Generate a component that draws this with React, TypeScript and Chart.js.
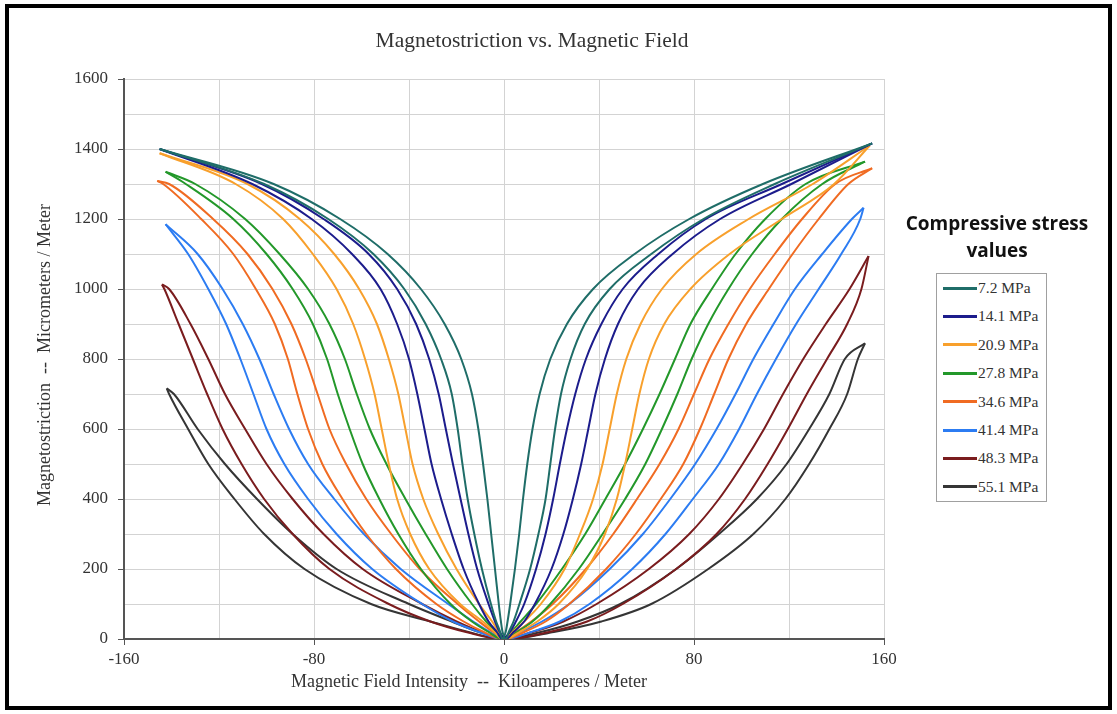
import React, { useEffect, useRef } from 'react';
import { Chart, registerables } from 'chart.js';

Chart.register(...registerables);

// ---- labels / text ----
const chartTitle = 'Magnetostriction vs. Magnetic Field';
const xAxisTitle = 'Magnetic Field Intensity  --  Kiloamperes / Meter';
const yAxisTitle = 'Magnetostriction  --  Micrometers / Meter';
const legendTitleLines = ['Compressive stress', 'values'];

const seriesLabels = ['7.2 MPa', '14.1 MPa', '20.9 MPa', '27.8 MPa', '34.6 MPa', '41.4 MPa', '48.3 MPa', '55.1 MPa'];
const seriesColors = ['#1f6d68', '#1c1c8c', '#f8a02c', '#23982a', '#f06b22', '#2c7cf2', '#7a1c1e', '#353535'];

// ---- axes ----
const xMin = -160;
const xMax = 160;
const xGridStep = 40;
const xLabelStep = 80;
const yMin = 0;
const yMax = 1600;
const yGridStep = 100;
const yLabelStep = 200;

// y levels (micrometers/meter) at which branch positions were read
const yLevels = [1300, 1200, 1100, 1000, 900, 800, 700, 600, 500, 400, 300, 200, 100, 50, 20];

// loop tips [x, y]
const tipLeft = [[-145, 1400], [-145, 1400], [-145, 1388], [-142.5, 1335], [-146, 1309], [-142.5, 1185], [-144, 1013], [-142, 716]];
const tipRight = [[155, 1416], [155, 1416], [154, 1410], [152, 1364], [155, 1345], [151.4, 1232], [153.5, 1094], [152, 845]];

// 7.2 MPa
const s1LeftOuter = [-101, -74, -55, -42, -33, -26.5, -22, -19.5, -17.5, -15.3, -12.5, -9.3, -5.5, -3.3, -1.6];
const s1LeftInner = [-97, -69, -49, -35, -25, -18, -13.5, -10.8, -8.8, -7, -5.4, -3.8, -2.2, -1.3, -0.6];
const s1RightInner = [109, 78, 55, 37.5, 26.5, 19.5, 15, 12, 9.8, 8, 6.4, 4.6, 2.6, 1.5, 0.7];
const s1RightOuter = [114, 84, 62, 44.5, 34, 28, 24, 21.5, 19.5, 17.5, 14.5, 11, 6.5, 4, 2];
// 14.1 MPa
const s2LeftOuter = [-106, -81, -64, -52, -45, -40, -36.5, -33.5, -30.5, -26.5, -22, -17, -10.5, -6.5, -3];
const s2LeftInner = [-102, -76, -57, -45, -37, -31.5, -27.5, -24.5, -21.5, -18.3, -15, -11.3, -6.5, -3.8, -1.8];
const s2RightInner = [117, 85, 65, 50, 41, 34.5, 30, 26.5, 23.5, 20.7, 17.5, 13.5, 8.5, 5, 2.5];
const s2RightOuter = [121, 91, 71, 56.5, 48, 42.5, 38.5, 35.5, 32.5, 29, 25, 20, 13, 8.5, 4];
// 20.9 MPa
const s3LeftOuter = [-113, -93, -80.5, -70.5, -63.5, -58.5, -54.5, -51.5, -48.5, -45, -39.5, -31.5, -18.5, -9, -4];
const s3LeftInner = [-108, -86, -71.5, -61, -53.5, -48.5, -44.5, -41.5, -38.5, -34, -27.7, -20, -10.5, -5, -2.2];
const s3RightInner = [130, 103, 81, 66.5, 57.5, 51.5, 47.5, 44.5, 41.5, 37.5, 32, 25.5, 15.5, 8.5, 3.5];
const s3RightOuter = [139, 117, 95, 78.5, 67.5, 61, 57, 54, 51, 47.5, 42.5, 35, 23, 14, 6.5];
// 27.8 MPa
const s4LeftOuter = [-134, -114, -100, -89, -80.5, -74.5, -70, -65, -59.5, -52.5, -44.5, -35, -22.5, -13.5, -6.5];
const s4LeftInner = [-130, -109, -94.5, -82.5, -73.5, -67, -62, -56.5, -49.5, -41.5, -33, -24, -13.5, -7.5, -3.2];
const s4RightInner = [127, 110, 97.5, 87.5, 78.5, 72, 65.5, 58.5, 51, 42.7, 34.2, 24.4, 13.5, 7, 3];
const s4RightOuter = [134, 117, 104.5, 94.5, 86, 79, 73, 66.5, 59.5, 51, 41.5, 31.5, 19.5, 12, 5.5];
// 34.6 MPa
const s5LeftOuter = [-143.5, -127.5, -114, -104.5, -96.5, -91, -87, -82.5, -76.5, -68, -58, -45.5, -28.5, -17, -8.5];
const s5LeftInner = [-141, -122.5, -108, -97.5, -89.5, -83.5, -78.5, -73.5, -66.5, -58, -47.5, -35.5, -19.5, -10.5, -4.5];
const s5RightInner = [139.5, 125.5, 114, 103.5, 94.5, 86.5, 80, 73.5, 65.5, 56, 46, 34.5, 20.5, 11.5, 5];
const s5RightOuter = [145, 132.5, 121.5, 111.5, 102, 94.5, 88.5, 82.5, 75.5, 66, 55.5, 43, 27.5, 17.5, 8.5];
// 41.4 MPa
const s6LeftOuter = [null, null, -133, -124.5, -117, -111, -105.5, -100, -92.5, -82.5, -70.5, -55.5, -34.5, -21.5, -10.5];
const s6LeftInner = [null, null, -129, -118.5, -110, -103, -97, -90.5, -82.5, -71.5, -59, -43.5, -23.5, -13, -6];
const s6RightInner = [null, 146.5, 134, 122.5, 113.5, 105, 97.5, 89.5, 80.5, 70, 58.5, 44.5, 27.5, 16, 7];
const s6RightOuter = [null, 150, 142, 132.5, 123, 114.5, 106.5, 99, 90.5, 79.5, 68, 54, 36, 23.5, 11.5];
// 48.3 MPa
const s7LeftOuter = [null, null, null, -143, -137, -131, -125, -118.5, -110.5, -101, -89, -73.5, -48.5, -31, -16];
const s7LeftInner = [null, null, null, -141, -132, -124.5, -117.5, -109, -100, -89, -76, -59.5, -34.5, -20, -9.5];
const s7RightInner = [null, null, null, 145.5, 135.5, 126, 117.5, 109.5, 100.5, 90.5, 78, 61, 39, 25, 12];
const s7RightOuter = [null, null, null, 150.5, 144.5, 136, 127.5, 119.5, 111, 101.5, 89.5, 72.5, 50, 35, 19];
// 55.1 MPa
const s8LeftOuter = [null, null, null, null, null, null, -141, -133, -124.5, -113.5, -101, -84, -56, -31, -15];
const s8LeftInner = [null, null, null, null, null, null, -139, -129, -117.5, -104, -89, -70.5, -40, -22, -10.5];
const s8RightInner = [null, null, null, null, null, 143.5, 137, 128.5, 119, 106.5, 90.5, 72.5, 49, 31, 15.5];
const s8RightOuter = [null, null, null, null, null, 149, 144.5, 137, 128.5, 118.5, 105, 86, 62, 41, 21];

const leftOuter = [s1LeftOuter, s2LeftOuter, s3LeftOuter, s4LeftOuter, s5LeftOuter, s6LeftOuter, s7LeftOuter, s8LeftOuter];
const leftInner = [s1LeftInner, s2LeftInner, s3LeftInner, s4LeftInner, s5LeftInner, s6LeftInner, s7LeftInner, s8LeftInner];
const rightInner = [s1RightInner, s2RightInner, s3RightInner, s4RightInner, s5RightInner, s6RightInner, s7RightInner, s8RightInner];
const rightOuter = [s1RightOuter, s2RightOuter, s3RightOuter, s4RightOuter, s5RightOuter, s6RightOuter, s7RightOuter, s8RightOuter];

// field values where each sweep touches zero
const minimumRising = 0.8;
const minimumFalling = -0.8;

type P = { x: number; y: number };

// field rising: left tip -> left inner branch -> minimum -> right outer branch -> right tip
function risingSweep(i: number): P[] {
  const pts: P[] = [];
  const n = yLevels.length;
  pts.push({ x: tipLeft[i][0], y: tipLeft[i][1] });
  for (let k = 0; k < n; k++) if (leftInner[i][k] != null) pts.push({ x: leftInner[i][k] as number, y: yLevels[k] });
  pts.push({ x: minimumRising, y: 0 });
  for (let k = n - 1; k >= 0; k--) if (rightOuter[i][k] != null) pts.push({ x: rightOuter[i][k] as number, y: yLevels[k] });
  pts.push({ x: tipRight[i][0], y: tipRight[i][1] });
  return pts;
}

// field falling: right tip -> right inner branch -> minimum -> left outer branch -> left tip
function fallingSweep(i: number): P[] {
  const pts: P[] = [];
  const n = yLevels.length;
  pts.push({ x: tipRight[i][0], y: tipRight[i][1] });
  for (let k = 0; k < n; k++) if (rightInner[i][k] != null) pts.push({ x: rightInner[i][k] as number, y: yLevels[k] });
  pts.push({ x: minimumFalling, y: 0 });
  for (let k = n - 1; k >= 0; k--) if (leftOuter[i][k] != null) pts.push({ x: leftOuter[i][k] as number, y: yLevels[k] });
  pts.push({ x: tipLeft[i][0], y: tipLeft[i][1] });
  return pts;
}

const serif = '"Liberation Serif", "Times New Roman", serif';

const textPlugin = {
  id: 'extraTexts',
  afterDraw(chart: any) {
    const { ctx, chartArea } = chart;
    ctx.save();
    ctx.fillStyle = '#333333';
    ctx.textAlign = 'center';
    ctx.textBaseline = 'middle';
    ctx.font = `21.5px ${serif}`;
    ctx.fillText(chartTitle, chartArea.left + 408, 41);
    ctx.font = `18px ${serif}`;
    ctx.fillText(xAxisTitle, chartArea.left + 345, 682);
    ctx.translate(45, (chartArea.top + chartArea.bottom) / 2 - 4);
    ctx.rotate(-Math.PI / 2);
    ctx.fillText(yAxisTitle, 0, 0);
    ctx.restore();
  },
};

function isMultiple(v: number, step: number) {
  const r = Math.abs(v % step);
  return r < 1e-6 || Math.abs(r - step) < 1e-6;
}

export default function App() {
  const canvasRef = useRef<HTMLCanvasElement | null>(null);

  useEffect(() => {
    const canvas = canvasRef.current;
    if (!canvas) return;
    const datasets: any[] = [];
    seriesLabels.forEach((label, i) => {
      [risingSweep(i), fallingSweep(i)].forEach((data, j) => {
        datasets.push({
          label: j === 0 ? label : label + ' (return)',
          data,
          borderColor: seriesColors[i],
          backgroundColor: seriesColors[i],
          borderWidth: 2,
          pointRadius: 0,
          showLine: true,
          fill: false,
          cubicInterpolationMode: 'monotone',
        });
      });
    });
    const chart = new Chart(canvas, {
      type: 'scatter',
      data: { datasets },
      plugins: [textPlugin],
      options: {
        responsive: false,
        animation: false,
        layout: { padding: { left: 64, top: 79, right: 233, bottom: 45 } },
        plugins: { legend: { display: false }, tooltip: { enabled: false }, title: { display: false } },
        scales: {
          x: {
            type: 'linear',
            min: xMin,
            max: xMax,
            afterFit: (s: any) => { s.height = 30; },
            ticks: {
              stepSize: xGridStep,
              autoSkip: false,
              maxRotation: 0,
              padding: 4,
              color: '#333333',
              font: { family: serif, size: 17 },
              callback: (v: any) => (isMultiple(Number(v), xLabelStep) ? String(v) : ''),
            },
            grid: {
              color: '#d3d3d3',
              lineWidth: 1,
              tickLength: 6,
              tickColor: (c: any) => (c.tick && isMultiple(c.tick.value, xLabelStep) ? '#555555' : 'rgba(0,0,0,0)'),
            },
            border: { color: '#555555', width: 2 },
          },
          y: {
            type: 'linear',
            min: yMin,
            max: yMax,
            afterFit: (s: any) => { s.width = 60; },
            ticks: {
              stepSize: yGridStep,
              autoSkip: false,
              padding: 10,
              color: '#333333',
              font: { family: serif, size: 17 },
              callback: (v: any) => (isMultiple(Number(v), yLabelStep) ? String(v) : ''),
            },
            grid: {
              color: '#d3d3d3',
              lineWidth: 1,
              tickLength: 6,
              tickColor: (c: any) => (c.tick && isMultiple(c.tick.value, yLabelStep) ? '#555555' : 'rgba(0,0,0,0)'),
            },
            border: { color: '#555555', width: 2 },
          },
        },
      },
    } as any);
    return () => chart.destroy();
  }, []);

  return (
    <div style={{ position: 'absolute', left: 0, top: 0, width: 1117, height: 714, background: '#ffffff', overflow: 'hidden' }}>
      <canvas ref={canvasRef} width={1117} height={714} style={{ position: 'absolute', left: 0, top: 0, width: 1117, height: 714 }} />
      <div style={{ position: 'absolute', left: 897, top: 210, width: 200, textAlign: 'center', fontFamily: '"Open Sans", "Noto Sans", sans-serif', fontWeight: 700, fontSize: 19, lineHeight: '27px', color: '#111111' }}>
        {legendTitleLines.map((t) => (<div key={t}>{t}</div>))}
      </div>
      <div style={{ position: 'absolute', left: 936, top: 273, width: 111, height: 229, boxSizing: 'border-box', border: '1px solid #a0a0a0', background: '#ffffff' }}>
        {seriesLabels.map((label, i) => (
          <div key={label} style={{ position: 'absolute', left: 6, top: 4 + i * 28.4, height: 20, display: 'flex', alignItems: 'center' }}>
            <div style={{ width: 34, height: 3, background: seriesColors[i] }} />
            <span style={{ marginLeft: 1, fontFamily: serif, fontSize: 15.5, color: '#333333', whiteSpace: 'nowrap' }}>{label}</span>
          </div>
        ))}
      </div>
      <div style={{ position: 'absolute', left: 5, top: 4, width: 1107, height: 706, boxSizing: 'border-box', border: '4px solid #000000', pointerEvents: 'none' }} />
    </div>
  );
}
